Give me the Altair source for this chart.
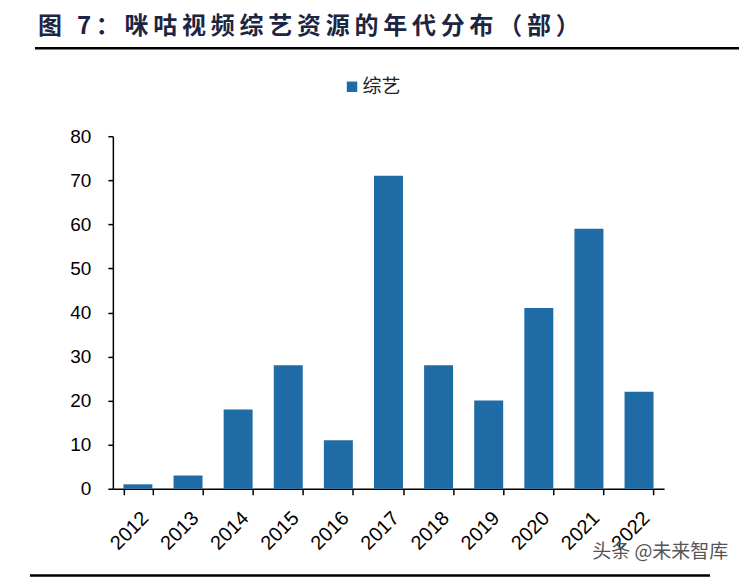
import altair as alt
import pandas as pd

years = ["2012", "2013", "2014", "2015", "2016", "2017", "2018", "2019", "2020", "2021", "2022"]
values = [1, 3, 18, 28, 11, 71, 28, 20, 41, 59, 22]
series_name = "综艺"
title_text = "图 7：咪咕视频综艺资源的年代分布（部）"
watermark_text = "头条 @未来智库"

df = pd.DataFrame({"year": years, "value": values, "series": [series_name] * len(years)})

W, H = 552, 353
FONT = "Liberation Sans"

bars = alt.Chart(df).mark_bar(size=29).encode(
    x=alt.X("year:N", sort=years, title=None,
            scale=alt.Scale(paddingInner=0.42, paddingOuter=0.21),
            axis=alt.Axis(labelAngle=-45, labelFontSize=20, labelFont=FONT, labelColor="#000000",
                          tickBand="extent", tickSize=6, tickColor="#000000", tickWidth=1.5,
                          domainColor="#000000", domainWidth=1.5, labelPadding=13, grid=False)),
    y=alt.Y("value:Q", title=None,
            scale=alt.Scale(domain=[0, 80], nice=False),
            axis=alt.Axis(values=list(range(0, 81, 10)), labelFontSize=19, labelFont=FONT,
                          labelColor="#000000", tickSize=5, tickColor="#000000", tickWidth=1.5,
                          domainColor="#000000", domainWidth=1.5, labelPadding=17, grid=False)),
    color=alt.Color("series:N", scale=alt.Scale(range=["#1f6ba5"]),
                    legend=alt.Legend(title=None, orient="none", legendX=230, legendY=-59,
                                      symbolType="square", symbolSize=110, symbolStrokeWidth=0,
                                      labelFontSize=19, labelFont="Noto Sans CJK SC",
                                      labelColor="#222222", labelOffset=1, padding=0)),
)

# thin spaces mimic the wide letter spacing of the original title
spaced_title = "\u2009".join(list(title_text))
one = pd.DataFrame({"t": [spaced_title], "w": [watermark_text]})

title = alt.Chart(one).mark_text(align="left", baseline="middle", fontSize=24, fontWeight="bold",
                                 font="Noto Sans CJK SC", color="#1c2541").encode(
    text="t:N", x=alt.value(-75), y=alt.value(-109))

watermark = alt.Chart(one).mark_text(align="left", baseline="middle", fontSize=19,
                                     font="Noto Sans CJK SC", color="#555555").encode(
    text="w:N", x=alt.value(480), y=alt.value(416))

top_line = alt.Chart(one).mark_rule(color="#000000", strokeWidth=2.5).encode(
    x=alt.value(-78), x2=alt.value(634), y=alt.value(-88))

bottom_line = alt.Chart(one).mark_rule(color="#000000", strokeWidth=2.5).encode(
    x=alt.value(-83), x2=alt.value(598), y=alt.value(440))

chart = alt.layer(bars, title, watermark, top_line, bottom_line).properties(
    width=W, height=H,
    autosize=alt.AutoSizeParams(type="none"),
    padding={"left": 105, "top": 128, "right": 75, "bottom": 90},
).configure_view(stroke=None)

chart.save("out.html", embed_options={"renderer": "svg", "actions": False})
